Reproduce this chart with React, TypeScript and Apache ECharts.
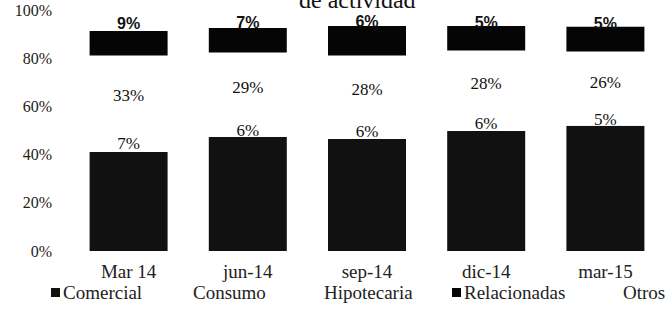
import React, { useEffect, useRef } from "react";
import * as echarts from "echarts";

const categories = ["Mar 14", "jun-14", "sep-14", "dic-14", "mar-15"];
const seriesNames = ["Comercial", "Consumo", "Hipotecaria", "Relacionadas", "Otros"];
const comercial = [41.1, 47.3, 46.5, 49.8, 52.0];
const consumo = [7.0, 5.8, 6.2, 5.8, 5.2];
const hipotecaria = [33.0, 29.3, 28.4, 27.6, 25.6];
const relacionadas = [10.2, 10.1, 12.3, 10.2, 10.4];
const otros = [8.7, 7.2, 6.4, 5.2, 5.0];
const yTicks = [0, 20, 40, 60, 80, 100];

const SERIF = "'Liberation Serif', 'DejaVu Serif', serif";
const SANS = "'Liberation Sans', Arial, sans-serif";

export default function App() {
  const ref = useRef<HTMLDivElement>(null);
  useEffect(() => {
    if (!ref.current) return;
    const chart = echarts.init(ref.current, null, { renderer: "svg" });
    const values = [comercial, consumo, hipotecaria, relacionadas, otros];
    const colors = ["#111111", "#ffffff", "#ffffff", "#050505", "#ffffff"];
    const fmt = (p: any) => `${Math.round(p.value)}%`;
    const labelFor = (i: number) => {
      if (i === 1 || i === 2)
        return {
          show: true,
          position: "inside",
          formatter: fmt,
          color: "#111",
          fontFamily: SERIF,
          fontSize: 17,
          textBorderWidth: 0,
        };
      if (i === 4)
        return {
          show: true,
          position: "inside",
          offset: [0, 3],
          formatter: fmt,
          color: "#111",
          fontFamily: SANS,
          fontWeight: "bold",
          fontSize: 16,
          textBorderWidth: 0,
        };
      return { show: false };
    };
    const legendX = [51, 181, 312, 452, 611];
    chart.setOption({
      animation: false,
      backgroundColor: "#ffffff",
      grid: { left: 69, width: 600, top: 10, bottom: 58, containLabel: false },
      graphic: [
        {
          type: "text",
          left: 299,
          top: -12,
          style: {
            text: "de actividad",
            font: `24px ${SERIF}`,
            fill: "#111",
          },
        },
      ],
      legend: seriesNames.map((n, i) => ({
        data: [n],
        left: legendX[i],
        top: 283,
        icon: "rect",
        itemWidth: 9,
        itemHeight: 9,
        itemGap: 0,
        padding: 0,
        textStyle: { fontFamily: SERIF, fontSize: 19, color: "#222", padding: [0, 0, 0, -2] },
      })),
      xAxis: {
        type: "category",
        data: categories,
        axisLine: { show: false },
        axisTick: { show: false },
        axisLabel: { fontFamily: SERIF, fontSize: 19, color: "#222", margin: 11 },
      },
      yAxis: {
        type: "value",
        min: yTicks[0],
        max: yTicks[yTicks.length - 1],
        interval: 20,
        axisLine: { show: false },
        axisTick: { show: false },
        splitLine: { show: false },
        axisLabel: {
          formatter: "{value}%",
          fontFamily: SERIF,
          fontSize: 16,
          color: "#222",
          margin: 17,
        },
      },
      series: seriesNames.map((n, i) => ({
        name: n,
        type: "bar",
        stack: "total",
        barWidth: 78,
        data: values[i],
        itemStyle: { color: colors[i] },
        label: labelFor(i),
        emphasis: { disabled: true },
      })),
    });
    return () => chart.dispose();
  }, []);
  return <div ref={ref} style={{ width: 665, height: 309, position: "absolute", left: 0, top: 0 }} />;
}
